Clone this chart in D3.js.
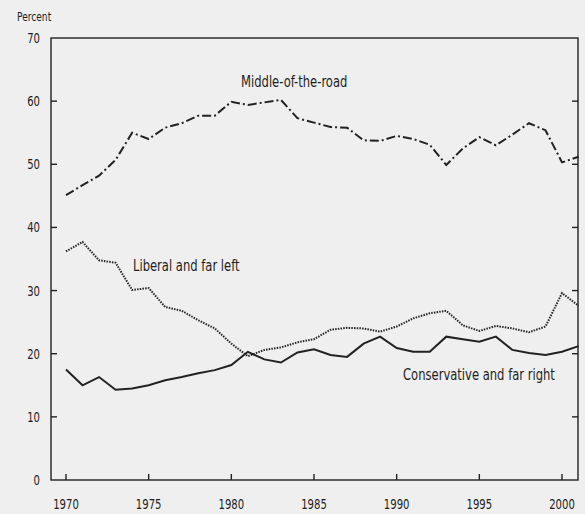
<!DOCTYPE html>
<meta charset="utf-8">
<html>
<head>
    <style>
        body { margin: 0; background: #efefef; }
        svg { display: block; }
        text {
            font-family: "Liberation Sans Narrow", "DejaVu Sans Condensed", sans-serif;
            fill: #1e1e1e;
        }
        .tick-label { font-size: 14px; }
        .series-label { font-size: 15.5px; }
        .frame, .tick { stroke: #222; stroke-width: 1.4px; fill: none; }
        .line { fill: none; stroke: #222; }
        .line--middle { stroke-width: 2px; stroke-dasharray: 9,3,2,3; }
        .line--liberal { stroke-width: 2px; stroke-dasharray: 1.5,1.2; }
        .line--conservative { stroke-width: 2px; }
    </style>
    <script src="https://d3js.org/d3.v7.min.js"></script>
</head>
<body>
<svg id="svg" width="585" height="514"></svg>
<script>

    var years = d3.range(1970, 2002);

    var middle = [45.1, 46.7, 48.2, 50.7, 55.0, 54.0, 55.8, 56.5, 57.7, 57.7,
        59.9, 59.4, 59.8, 60.2, 57.3, 56.6, 55.9, 55.8, 53.8, 53.7,
        54.5, 54.0, 53.1, 49.9, 52.5, 54.3, 53.0, 54.7, 56.5, 55.4,
        50.3, 51.2];

    var liberal = [36.2, 37.7, 34.8, 34.4, 30.1, 30.4, 27.4, 26.8, 25.3, 24.0,
        21.6, 19.6, 20.6, 21.0, 21.8, 22.3, 23.8, 24.1, 24.0, 23.5,
        24.3, 25.6, 26.4, 26.8, 24.5, 23.6, 24.4, 24.0, 23.4, 24.3,
        29.6, 27.6];

    var conservative = [17.5, 15.0, 16.3, 14.3, 14.5, 15.0, 15.8, 16.3, 16.9, 17.4,
        18.2, 20.3, 19.1, 18.6, 20.2, 20.7, 19.8, 19.5, 21.6, 22.7,
        20.9, 20.3, 20.3, 22.7, 22.3, 21.9, 22.7, 20.6, 20.1, 19.8,
        20.3, 21.2];

    var yTicks = [0, 10, 20, 30, 40, 50, 60, 70];
    var xTicks = [1970, 1975, 1980, 1985, 1990, 1995, 2000];

    var svg = d3.select("svg");

    var plotLeft = 51, plotRight = 578, plotTop = 38, plotBottom = 480;

    var x = d3.scaleLinear().domain([1970, 2000]).range([66, 562]);
    var y = d3.scaleLinear().domain([0, 70]).range([plotBottom, plotTop]);

    // the original uses a condensed face, so squeeze the text horizontally
    function squeezed(cls, px, py, sx, str) {
        return svg.append("text")
            .attr("class", cls)
            .attr("transform", "translate(" + px + "," + py + ") scale(" + sx + ",1)")
            .text(str);
    }

    // frame
    svg.append("rect")
        .attr("class", "frame")
        .attr("x", plotLeft)
        .attr("y", plotTop)
        .attr("width", plotRight - plotLeft)
        .attr("height", plotBottom - plotTop);

    // y ticks, inside on both sides
    yTicks.slice(1, -1).forEach(function (t) {
        svg.append("line").attr("class", "tick")
            .attr("x1", plotLeft).attr("x2", plotLeft + 6)
            .attr("y1", y(t)).attr("y2", y(t));
        svg.append("line").attr("class", "tick")
            .attr("x1", plotRight - 6).attr("x2", plotRight)
            .attr("y1", y(t)).attr("y2", y(t));
    });

    yTicks.forEach(function (t) {
        squeezed("tick-label", 40, y(t), 0.8, t)
            .attr("dy", "0.36em")
            .attr("text-anchor", "end");
    });

    squeezed("tick-label", 17, 21, 0.78, "Percent").style("font-size", "13px");

    // x ticks pointing up
    svg.selectAll(".xtick")
        .data(xTicks)
        .enter().append("line")
        .attr("class", "tick xtick")
        .attr("x1", function (d) { return x(d); })
        .attr("x2", function (d) { return x(d); })
        .attr("y1", plotBottom)
        .attr("y2", plotBottom - 6);

    xTicks.forEach(function (t) {
        squeezed("tick-label", x(t), 509, 0.8, t).attr("text-anchor", "middle");
    });

    var line = d3.line()
        .x(function (d, i) { return x(years[i]); })
        .y(function (d) { return y(d); });

    svg.append("path").attr("class", "line line--middle").attr("d", line(middle));
    svg.append("path").attr("class", "line line--liberal").attr("d", line(liberal));
    svg.append("path").attr("class", "line line--conservative").attr("d", line(conservative));

    squeezed("series-label", 241, 87, 0.83, "Middle-of-the-road");
    squeezed("series-label", 133, 271, 0.83, "Liberal and far left");
    squeezed("series-label", 403, 380, 0.83, "Conservative and far right");

</script>
</body>
</html>
